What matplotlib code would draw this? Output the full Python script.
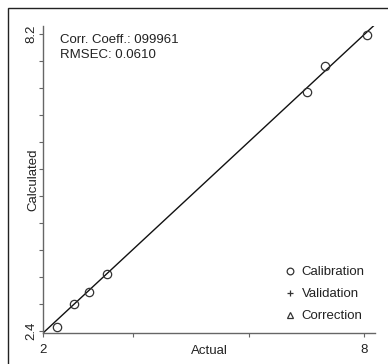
import matplotlib
matplotlib.use("Agg")
import matplotlib.pyplot as plt
from matplotlib.patches import Rectangle

plt.rcParams['font.family'] = ['Liberation Sans', 'DejaVu Sans']

# calibration points (actual vs calculated)
cal_actual = [2.26, 2.58, 2.86, 3.20, 6.93, 7.27, 8.05]
cal_calc = [2.48, 2.93, 3.16, 3.51, 7.07, 7.58, 8.18]
# no validation / correction samples shown
val_actual, val_calc = [], []
cor_actual, cor_calc = [], []

# regression line end points
fit_x = [2.0, 8.21]
fit_y = [2.36, 8.39]

x_ticks = [2, 3.68, 5.85, 8]
x_labels = ['2', '', '', '8']
y_ticks = [2.4 + i * (8.2 - 2.4) / 11 for i in range(12)]
y_labels = ['2.4'] + [''] * 10 + ['8.2']

stats_text = "Corr. Coeff.: 099961\nRMSEC: 0.0610"
fs = 9.5

W, H = 388, 364
fig = plt.figure(figsize=(W / 100, H / 100), dpi=100)
# outer frame
fig.patches.append(Rectangle((8 / W, -0.1), 1.2, (H - 8) / H + 0.1, transform=fig.transFigure,
                             fill=False, edgecolor='#222222', linewidth=1.0))

ax = fig.add_axes([43 / W, (H - 333) / H, (375 - 43) / W, (333 - 26) / H])
ax.set_xlim(2.0, 8.206)
ax.set_ylim(2.361, 8.357)

ax.plot(fit_x, fit_y, color='#111111', linewidth=1.0)
ax.plot(cal_actual, cal_calc, linestyle='none', marker='o', markersize=6,
        markerfacecolor='none', markeredgecolor='#333333', markeredgewidth=0.9, label='Calibration')
ax.plot(val_actual, val_calc, linestyle='none', marker='+', markersize=6,
        color='#333333', markeredgewidth=0.9, label='Validation')
ax.plot(cor_actual, cor_calc, linestyle='none', marker='^', markersize=5,
        markerfacecolor='none', markeredgecolor='#333333', markeredgewidth=0.9, label='Correction')

for s in ['top', 'right']:
    ax.spines[s].set_visible(False)
for s in ['left', 'bottom']:
    ax.spines[s].set_color('#666666')
    ax.spines[s].set_linewidth(1.0)

ax.set_xticks(x_ticks)
ax.set_xticklabels(x_labels, fontsize=fs, color='#222222')
ax.set_yticks(y_ticks)
ax.set_yticklabels(y_labels, fontsize=fs, color='#222222', rotation=90, va='center')
ax.tick_params(axis='x', length=3, width=0.8, color='#666666', pad=5)
ax.tick_params(axis='y', length=3, width=0.8, color='#666666', pad=1)

ax.set_xlabel('Actual', fontsize=fs, color='#222222')
ax.xaxis.set_label_coords(0.5, -0.04, transform=ax.transAxes)
ax.xaxis.label.set_va('top')
ax.set_ylabel('Calculated', fontsize=fs, color='#222222')
ax.yaxis.set_label_coords(-0.03, 0.5, transform=ax.transAxes)
ax.yaxis.label.set_va('center')

ax.text(0.05, 0.975, stats_text, transform=ax.transAxes, fontsize=fs, color='#222222',
        va='top', ha='left', linespacing=1.35)

ax.legend(loc='lower right', frameon=False, fontsize=fs, handlelength=0.8, handletextpad=0.5,
          labelspacing=0.75, borderaxespad=0.4, labelcolor='#222222', markerscale=0.8)

fig.savefig('out.png', dpi=100)
